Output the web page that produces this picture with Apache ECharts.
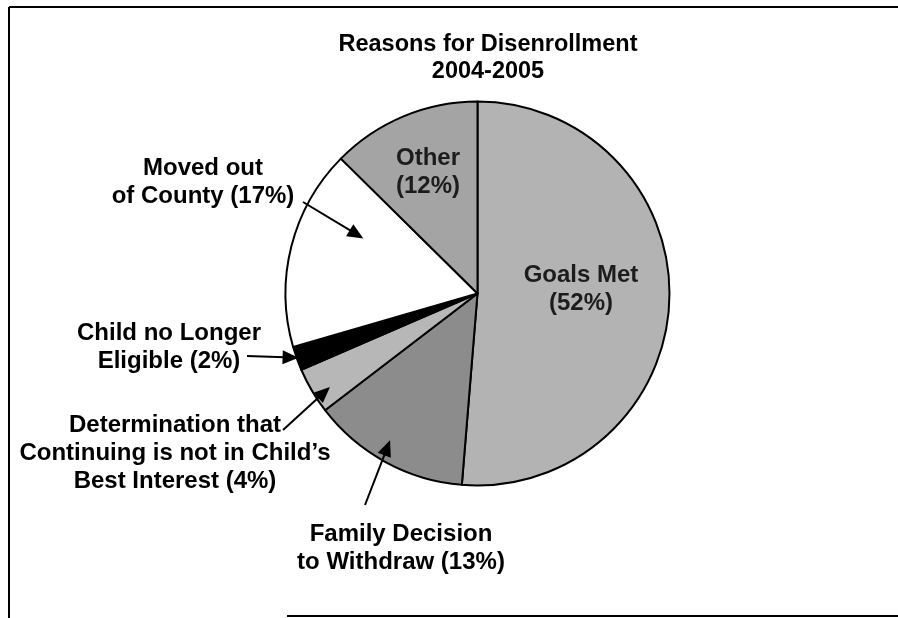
<!DOCTYPE html>
<html>
<head>
<meta charset="utf-8">
<script src="https://cdn.jsdelivr.net/npm/echarts@6/dist/echarts.min.js"></script>
<style>
html, body { margin: 0; padding: 0; background: #fff; }
#main { width: 898px; height: 618px; }
</style>
</head>
<body>
<div id="main"></div>
<script>
// slices, clockwise from 12 o'clock
var categories = ['Goals Met', 'Family Decision to Withdraw',
    "Determination that Continuing is not in Child's Best Interest",
    'Child no Longer Eligible', 'Moved out of County', 'Other'];
var values = [51.3, 13.3, 3.9, 2.0, 16.9, 12.6];
var labelTexts = ['Goals Met\n(52%)', 'Family Decision\nto Withdraw (13%)',
    "Determination that\nContinuing is not in Child\u2019s\nBest Interest (4%)",
    'Child no Longer\nEligible (2%)', 'Moved out\nof County (17%)', 'Other\n(12%)'];
var titleLines = ['Reasons for Disenrollment', '2004-2005'];

var colors = ['#b3b3b3', '#8c8c8c', '#b7b7b7', '#000000', '#ffffff', '#a4a4a4'];
var cx = 477.5, cy = 293.5, R = 192;
var FONT = '"Liberation Sans", Arial, sans-serif';

// where each label sits (label centre)
var labelPos = [[581, 289], [401, 548], [175, 453], [169, 347], [203, 182], [428, 172]];
// arrow tails (null = label inside slice); tip = [fraction across slice, fraction of radius]
var arrowTail = [null, [365, 505], [283, 430], [247, 356], [303, 202], null];
var arrowTip = [null, [0.545, 0.89], [0.36, 0.91], [0.51, 0.99], [0.69, 0.66], null];

var chart = echarts.init(document.getElementById('main'));

var total = values.reduce(function (a, b) { return a + b; }, 0);
function slicePoint(i, f, rf) {
    var start = 0;
    for (var k = 0; k < i; k++) start += values[k];
    var a = (start + values[i] * f) / total * 2 * Math.PI;
    return [cx + R * rf * Math.sin(a), cy - R * rf * Math.cos(a)];
}

var graphics = [];
// frame
graphics.push({ type: 'line', shape: { x1: 9, y1: 7, x2: 898, y2: 7 }, style: { stroke: '#000', lineWidth: 2 } });
graphics.push({ type: 'line', shape: { x1: 9, y1: 7, x2: 9, y2: 618 }, style: { stroke: '#000', lineWidth: 2 } });
graphics.push({ type: 'line', shape: { x1: 287, y1: 616, x2: 898, y2: 616 }, style: { stroke: '#000', lineWidth: 2 } });
// title
graphics.push({
    type: 'text', x: 488, y: 45,
    style: { text: titleLines[0], font: 'bold 23.5px ' + FONT, fill: '#000', align: 'center', verticalAlign: 'middle' }
});
graphics.push({
    type: 'text', x: 488, y: 72,
    style: { text: titleLines[1], font: 'bold 23.5px ' + FONT, fill: '#000', align: 'center', verticalAlign: 'middle' }
});
// arrows
for (var i = 0; i < values.length; i++) {
    if (!arrowTail[i]) continue;
    var t = arrowTail[i];
    var p = slicePoint(i, arrowTip[i][0], arrowTip[i][1]);
    var dx = p[0] - t[0], dy = p[1] - t[1];
    var len = Math.sqrt(dx * dx + dy * dy);
    var ux = dx / len, uy = dy / len;
    var hl = 16, hw = 7;
    var bx = p[0] - ux * hl, by = p[1] - uy * hl;
    graphics.push({
        type: 'line', z: 10,
        shape: { x1: t[0], y1: t[1], x2: bx + ux * 2, y2: by + uy * 2 },
        style: { stroke: '#000', lineWidth: 2 }
    });
    graphics.push({
        type: 'polygon', z: 10,
        shape: { points: [p, [bx - uy * hw, by + ux * hw], [bx + uy * hw, by - ux * hw]] },
        style: { fill: '#000' }
    });
}

chart.setOption({
    backgroundColor: '#fff',
    animation: false,
    graphic: graphics,
    series: [{
        type: 'pie',
        center: [cx, cy],
        radius: [0, R],
        startAngle: 90,
        clockwise: true,
        avoidLabelOverlap: false,
        data: categories.map(function (c, i) {
            return {
                name: c, value: values[i],
                itemStyle: { color: colors[i] },
                label: { color: (i === 0 || i === 5) ? '#1c1c1c' : '#000' }
            };
        }),
        itemStyle: { borderColor: '#000', borderWidth: 2 },
        label: {
            show: true,
            position: 'outside',
            formatter: function (p) { return labelTexts[p.dataIndex]; },
            fontFamily: FONT,
            fontWeight: 'bold',
            fontSize: 24,
            lineHeight: 28,
            align: 'center'
        },
        labelLine: { show: false },
        labelLayout: function (p) {
            var pos = labelPos[p.dataIndex];
            return { x: pos[0], y: pos[1], align: 'center', verticalAlign: 'middle' };
        },
        emphasis: { disabled: true }
    }]
});
</script>
</body>
</html>
